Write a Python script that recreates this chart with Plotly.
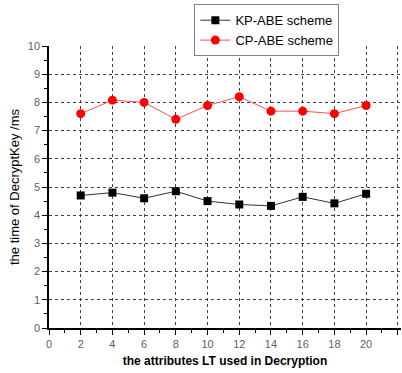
import plotly.graph_objects as go

x_vals = [2, 4, 6, 8, 10, 12, 14, 16, 18, 20]
kp_abe = [4.70, 4.80, 4.60, 4.85, 4.50, 4.38, 4.33, 4.65, 4.42, 4.76]
cp_abe = [7.60, 8.08, 8.00, 7.40, 7.89, 8.20, 7.69, 7.69, 7.60, 7.89]

x_ticks = list(range(0, 23, 2))
y_ticks = list(range(0, 11, 1))

fig = go.Figure()
fig.add_trace(go.Scatter(
    x=x_vals, y=kp_abe, name="KP-ABE scheme", mode="lines+markers",
    line=dict(color="#333333", width=1),
    marker=dict(symbol="square", size=8, color="black"),
))
fig.add_trace(go.Scatter(
    x=x_vals, y=cp_abe, name="CP-ABE scheme", mode="lines+markers",
    line=dict(color="#ff5050", width=1),
    marker=dict(symbol="circle", size=9, color="red"),
))

font_family = "Liberation Sans, Arial, sans-serif"
fig.update_layout(
    width=402, height=373,
    margin=dict(l=49, r=1, t=46, b=45),
    paper_bgcolor="white", plot_bgcolor="white",
    font=dict(family=font_family, size=11, color="black"),
    showlegend=True,
    legend=dict(
        x=0.413, y=1.148, xanchor="left", yanchor="top",
        bgcolor="white", bordercolor="#808080", borderwidth=1,
        font=dict(size=13, color="black"),
        tracegroupgap=0, itemwidth=30,
    ),
    xaxis=dict(
        range=[0, 22.2], tickvals=x_ticks, ticktext=[str(v) for v in x_ticks],
        showgrid=True, gridcolor="#404040", griddash="dot", gridwidth=1,
        showline=True, linecolor="black", linewidth=1.5,
        ticks="outside", ticklen=5, tickcolor="black",
        minor=dict(tickvals=list(range(1, 23, 2)), ticks="outside", ticklen=3, tickcolor="black", showgrid=False),
        tickfont=dict(size=11, color="#606060"),
        zeroline=False,
        title=dict(text="<b>the attributes LT used in Decryption</b>", font=dict(size=12, color="black"), standoff=8),
    ),
    yaxis=dict(
        range=[0, 10], tickvals=y_ticks, ticktext=[str(v) for v in y_ticks],
        showgrid=True, gridcolor="#404040", griddash="dot", gridwidth=1,
        showline=True, linecolor="black", linewidth=1.5,
        ticks="outside", ticklen=5, tickcolor="black",
        minor=dict(tickvals=[v + 0.5 for v in range(0, 10)], ticks="outside", ticklen=3, tickcolor="black", showgrid=False),
        tickfont=dict(size=11, color="#606060"),
        zeroline=False,
        title=dict(text="the time of DecryptKey /ms", font=dict(size=13, color="black"), standoff=5),
    ),
)

fig.write_html("out.html")
